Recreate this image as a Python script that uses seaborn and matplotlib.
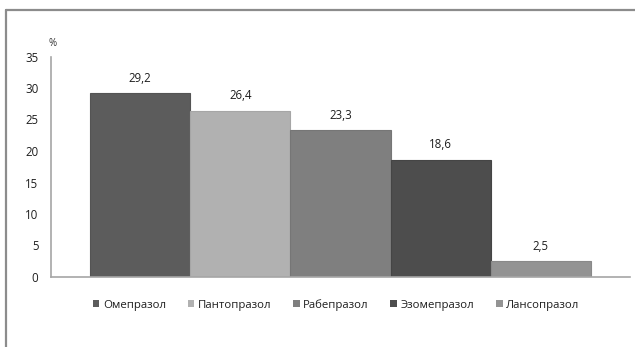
import matplotlib
matplotlib.use("Agg")
import matplotlib.pyplot as plt
from matplotlib.lines import Line2D
from matplotlib.patches import Patch
import seaborn as sns
import pandas as pd

drugs = ["Омепразол", "Пантопразол", "Рабепразол", "Эзомепразол", "Лансопразол"]
shares = [29.2, 26.4, 23.3, 18.6, 2.5]
value_labels = ["29,2", "26,4", "23,3", "18,6", "2,5"]
colors = ["#5c5c5c", "#b1b1b1", "#7f7f7f", "#4d4d4d", "#939393"]
edge_colors = ["#545454", "#a6a6a6", "#767676", "#454545", "#898989"]
y_ticks = [0, 5, 10, 15, 20, 25, 30, 35]

sns.set_theme(style="white")
plt.rcParams["font.family"] = ["Open Sans", "DejaVu Sans"]

df = pd.DataFrame({"drug": drugs, "share": shares})

fig = plt.figure(figsize=(6.35, 3.47), dpi=100)
ax = fig.add_axes([51 / 635, 1 - 277 / 347, (630 - 51) / 635, (277 - 56.5) / 347])

sns.barplot(data=df, x="drug", y="share", hue="drug", palette=colors,
            width=1.0, legend=False, ax=ax, saturation=1)

for patch, ec in zip(ax.patches, edge_colors):
    patch.set_edgecolor(ec)
    patch.set_linewidth(0.8)

for i, (v, lab) in enumerate(zip(shares, value_labels)):
    ax.annotate(lab, (i, v), xytext=(0, 6), textcoords="offset points",
                ha="center", va="bottom", fontsize=8.3, color="#1e1e1e")

ax.set_xlim(-0.89, 4.89)
ax.set_ylim(0, 35)
ax.set_yticks(y_ticks)
ax.set_yticklabels([str(t) for t in y_ticks], fontsize=8.3, color="#1e1e1e")
ax.set_xticks([])
ax.set_xlabel("")
ax.set_ylabel("")
ax.tick_params(axis="y", length=0, pad=9)

for side in ["top", "right"]:
    ax.spines[side].set_visible(False)
for side in ["left", "bottom"]:
    ax.spines[side].set_color("#a6a6a6")
    ax.spines[side].set_linewidth(1.2)

fig.text(53 / 635, 1 - 43 / 347, "%", fontsize=7, color="#333333",
         ha="center", va="center")

handles = [Patch(facecolor=c, edgecolor="none") for c in colors]
fig.legend(handles, drugs, loc="center", bbox_to_anchor=(336 / 635, 1 - 305 / 347),
           ncol=5, frameon=False, fontsize=8.2, handlelength=0.6, handleheight=0.6,
           handletextpad=0.3, columnspacing=1.9, labelcolor="#1e1e1e")

# outer frame of the chart area
fig.add_artist(Line2D([5.5 / 635, 1.0], [1 - 9.5 / 347, 1 - 9.5 / 347],
                      transform=fig.transFigure, color="#8c8c8c", linewidth=1.6))
fig.add_artist(Line2D([5.5 / 635, 5.5 / 635], [1 - 9.5 / 347, 0.0],
                      transform=fig.transFigure, color="#8c8c8c", linewidth=1.6))

fig.savefig("out.png", dpi=100, facecolor="white")
